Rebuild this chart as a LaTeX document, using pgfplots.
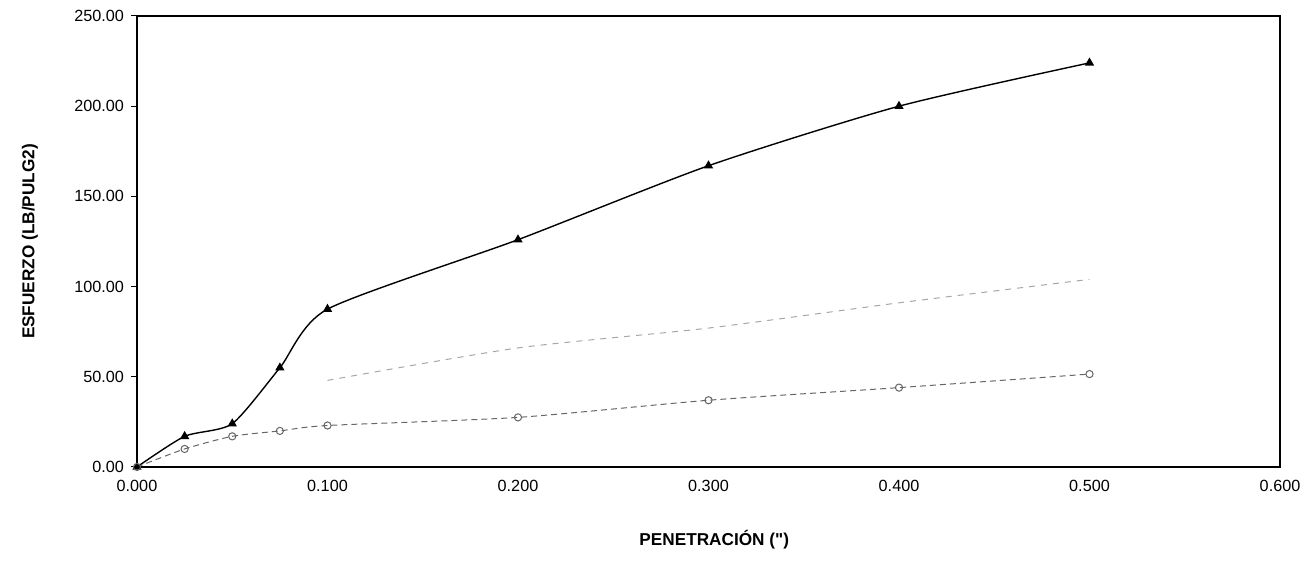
\documentclass[border=0pt]{standalone}
\usepackage{pgfplots}
\pgfplotsset{compat=1.18}
\usepackage{fontspec}
\setmainfont{Liberation Sans}
\begin{document}
\begin{tikzpicture}
\useasboundingbox (-68.5pt,-49pt) rectangle (587pt,233.5pt);
\begin{axis}[
  at={(0,0)}, anchor=south west,
  scale only axis, width=571.5pt, height=225.5pt,
  xmin=0, xmax=0.6, ymin=0, ymax=250,
  xtick={0,0.1,...,0.6}, ytick={0,50,...,250},
  xtick style={draw=none},
  ytick pos=left, tick align=outside, major tick length=3pt,
  ytick style={black, line width=0.5pt},
  axis line style={black, line width=0.6pt},
  /pgf/number format/assume math mode=true,
  xticklabel style={/pgf/number format/.cd, fixed, zerofill, precision=3},
  yticklabel style={/pgf/number format/.cd, fixed, zerofill, precision=2},
  ticklabel style={font=\fontsize{8.1}{9}\selectfont},
  xlabel={PENETRACIÓN (\textquotedbl)},
  ylabel={ESFUERZO (LB/PULG2)},
  label style={font=\fontsize{8.6}{10}\selectfont\bfseries},
  xlabel style={at={(axis description cs:0.505,-0.162)}, anchor=center},
  ylabel style={at={(axis description cs:-0.0936,0.5)}, anchor=center},
  clip=false,
]
% top series
\addplot[black, line width=0.7pt, smooth, tension=0.4, mark=triangle*, mark size=2pt, mark options={solid}] coordinates {
  (0,0) (0.025,17) (0.05,24) (0.075,55) (0.1,87.5) (0.2,126) (0.3,167) (0.4,200) (0.5,224)
};
% middle series
\addplot[gray!70, line width=0.5pt, dashed, smooth, tension=0.4] coordinates {
  (0.1,48) (0.2,66) (0.3,77) (0.4,91) (0.5,104)
};
% bottom series
\addplot[gray!80!black, line width=0.5pt, densely dashed, smooth, tension=0.4, mark=o, mark size=1.8pt, mark options={solid}] coordinates {
  (0,0) (0.025,10) (0.05,17) (0.075,20) (0.1,23) (0.2,27.5) (0.3,37) (0.4,44) (0.5,51.5)
};
\end{axis}
\end{tikzpicture}
\end{document}
